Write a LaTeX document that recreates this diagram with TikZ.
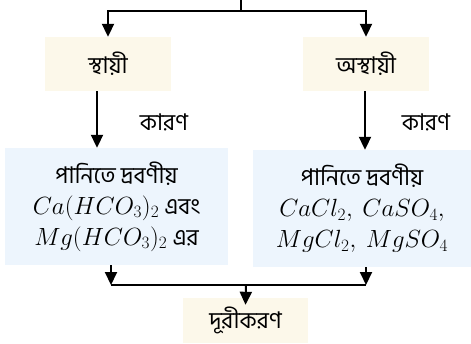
\documentclass[tikz,border=0pt]{standalone}
\usepackage{fontspec}
\usepackage{tikz}
\usetikzlibrary{arrows.meta,positioning}
\newfontfamily\bn[Script=Bengali]{Hind Siliguri}
\definecolor{typefill}{HTML}{FCF8EA}
\definecolor{causefill}{HTML}{EDF5FD}
\tikzset{
  typebox/.style={
    fill=typefill,
    draw=none,
    align=center,
    font=\bn\fontsize{23}{26}\selectfont,
    inner sep=0pt,
    minimum width=126pt,
    minimum height=54pt
  },
  causebox/.style={
    fill=causefill,
    draw=none,
    align=center,
    font=\bn\fontsize{23}{31}\selectfont,
    inner sep=0pt,
    minimum height=117pt
  },
  reason/.style={font=\bn\fontsize{23}{26}\selectfont},
  flow/.style={line width=2pt, draw=black},
  flowarrow/.style={flow, -{Triangle[length=13pt, width=12pt]}}
}
\newcommand{\fm}[1]{{\fontsize{24}{31}\selectfont$#1$}}

\begin{document}
\begin{tikzpicture}[x=1pt,y=-1pt]
\path[use as bounding box] (0,0) rectangle (471,343);

\node[typebox] (stayi) at (108,64) {স্থায়ী};
\node[typebox] (asthayi) at (366,64) {অস্থায়ী};

\node[causebox, minimum width=223pt] (solL) at (116.5,206.5)
  {পানিতে দ্রবণীয়\\\fm{Ca(HCO_3)_2} এবং\\\fm{Mg(HCO_3)_2} এর};
\node[causebox, minimum width=218pt] (solR) at (362,208.5)
  {পানিতে দ্রবণীয়\\\fm{CaCl_2,\ CaSO_4,}\\\fm{MgCl_2,\ MgSO_4}};

\node[reason] (whyL) at (164,122) {কারণ};
\node[reason] (whyR) at (426,122) {কারণ};

\node[typebox, minimum width=125pt, minimum height=45pt] (dur) at (245.5,320.5) {দূরীকরণ};

\coordinate (topc) at (241,0);
\coordinate (split) at (241,11);
\coordinate (joinL) at (111,285);
\coordinate (joinR) at (366,285);
\coordinate (join) at (246,285);

% split into the two kinds
\draw[flow] (topc) -- (split);
\draw[flowarrow] (split) -| (stayi.north);
\draw[flowarrow] (split) -| (asthayi.north);

% kind -> cause
\draw[flowarrow] ([xshift=-11pt]stayi.south) -- ([xshift=-11pt]stayi.south |- solL.north);
\draw[flowarrow] ([xshift=-1pt]asthayi.south) -- ([xshift=-1pt]asthayi.south |- solR.north);

% cause -> removal
\draw[flowarrow] (solL.south -| joinL) -- (joinL);
\draw[flowarrow] (solR.south -| joinR) -- (joinR);
\draw[flow] (joinL) -- (joinR);
\draw[flowarrow] (join) -- ([yshift=-7pt]dur.north);

\end{tikzpicture}
\end{document}
